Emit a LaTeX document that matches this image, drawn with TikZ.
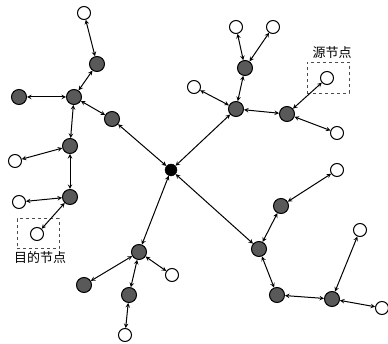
\documentclass[tikz,border=0pt]{standalone}
\usepackage{fontspec}
\newfontfamily\cjk{Noto Sans CJK SC}
\usepackage{tikz}
\usetikzlibrary{arrows}
\tikzstyle{hubnode} = [circle, minimum size=12pt, inner sep=0pt, draw=black, fill=black]
\tikzstyle{relay} = [circle, minimum size=15pt, inner sep=0pt, draw=black, line width=1pt, fill=black!65]
\tikzstyle{leaf} = [circle, minimum size=13pt, inner sep=0pt, draw=black, line width=1pt, fill=white]
\tikzstyle{markbox} = [rectangle, dashed, draw=black!70, line width=1pt, inner sep=0pt]
\tikzstyle{tag} = [font=\cjk\fontsize{13}{14}\selectfont, inner sep=0pt]
\tikzstyle{arrow} = [line width=1pt,<->,>=stealth]

\begin{document}
\begin{tikzpicture}[x=1pt, y=-1pt]
	\useasboundingbox (0,0) rectangle (388,344);
	
		% Draw the boxes
		\node (srcbox) [markbox, minimum width=42pt, minimum height=31pt] at (328,78) {};
		\node (dstbox) [markbox, minimum width=42pt, minimum height=30pt] at (38,234) {};
		\node (srctag) [tag] at (332,53) {源节点};
		\node (dsttag) [tag] at (40,258) {目的节点};
		
		% Draw the nodes
		\node (hub) [hubnode] at (171,170) {};
		% left branch
		\node (a1) [relay] at (112,119) {};
		\node (a2) [relay] at (74,97) {};
		\node (a3) [relay] at (97,64) {};
		\node (a4) [relay] at (19,97) {};
		\node (a5) [relay] at (70,146) {};
		\node (a6) [relay] at (70,197) {};
		\node (la1) [leaf] at (84,13) {};
		\node (la2) [leaf] at (15,161) {};
		\node (la3) [leaf] at (19,202) {};
		\node (dst) [leaf] at (37,234) {};
		% upper right branch
		\node (b1) [relay] at (236,109) {};
		\node (b2) [relay] at (245,68) {};
		\node (b3) [relay] at (287,114) {};
		\node (lb1) [leaf] at (236,27) {};
		\node (lb2) [leaf] at (273,27) {};
		\node (lb3) [leaf] at (194,87) {};
		\node (src) [leaf] at (327,78) {};
		\node (lb4) [leaf] at (337,133) {};
		% lower right branch
		\node (c1) [relay] at (259,249) {};
		\node (c2) [relay] at (281,206) {};
		\node (c3) [relay] at (277,295) {};
		\node (c4) [relay] at (332,299) {};
		\node (lc1) [leaf] at (337,170) {};
		\node (lc2) [leaf] at (360,230) {};
		\node (lc3) [leaf] at (382,308) {};
		% lower left branch
		\node (d1) [relay] at (139,252) {};
		\node (d2) [relay] at (84,285) {};
		\node (d3) [relay] at (129,295) {};
		\node (ld1) [leaf] at (172,275) {};
		\node (ld2) [leaf] at (125,335) {};
		
		%Draw the arrows
		\draw [arrow] (hub) -- (a1);
		\draw [arrow] (hub) -- (b1);
		\draw [arrow] (hub) -- (c1);
		\draw [arrow] (hub) -- (d1);
		\draw [arrow] (a1) -- (a2);
		\draw [arrow] (a2) -- (a3);
		\draw [arrow] (a3) -- (la1);
		\draw [arrow] (a2) -- (a4);
		\draw [arrow] (a2) -- (a5);
		\draw [arrow] (a5) -- (la2);
		\draw [arrow] (a5) -- (a6);
		\draw [arrow] (a6) -- (la3);
		\draw [arrow] (a6) -- (dst);
		\draw [arrow] (b1) -- (b2);
		\draw [arrow] (b2) -- (lb1);
		\draw [arrow] (b2) -- (lb2);
		\draw [arrow] (b1) -- (lb3);
		\draw [arrow] (b1) -- (b3);
		\draw [arrow] (b3) -- (src);
		\draw [arrow] (b3) -- (lb4);
		\draw [arrow] (c1) -- (c2);
		\draw [arrow] (c2) -- (lc1);
		\draw [arrow] (c1) -- (c3);
		\draw [arrow] (c3) -- (c4);
		\draw [arrow] (c4) -- (lc2);
		\draw [arrow] (c4) -- (lc3);
		\draw [arrow] (d1) -- (d2);
		\draw [arrow] (d1) -- (ld1);
		\draw [arrow] (d1) -- (d3);
		\draw [arrow] (d3) -- (ld2);
	
	\end{tikzpicture}
\end{document}
